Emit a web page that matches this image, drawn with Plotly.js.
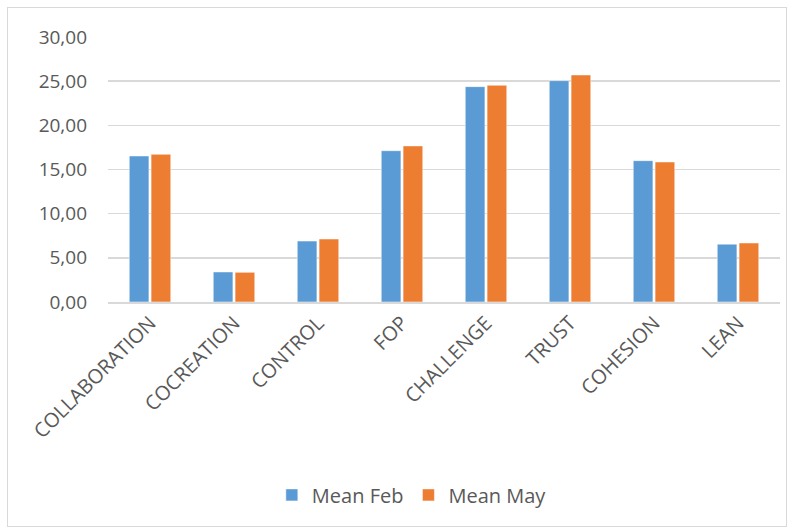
<!DOCTYPE html>
<html><head><meta charset="utf-8">
<script src="https://cdn.plot.ly/plotly-3.0.1.min.js"></script>
<style>
html,body{margin:0;padding:0;background:#fff;}
#wrap{position:relative;width:792px;height:531px;}
#chart{position:absolute;left:0;top:0;width:792px;height:531px;}
#frame{position:absolute;left:7px;top:7px;width:780px;height:520px;border:1px solid #d9d9d9;box-sizing:border-box;pointer-events:none;}
</style></head>
<body>
<div id="wrap"><div id="chart"></div><div id="frame"></div></div>
<script>
const categories = ["COLLABORATION","COCREATION","CONTROL","FOP","CHALLENGE","TRUST","COHESION","LEAN"];
const meanFeb = [16.53, 3.40, 6.90, 17.13, 24.38, 25.06, 16.00, 6.55];
const meanMay = [16.72, 3.36, 7.13, 17.67, 24.53, 25.70, 15.85, 6.68];
const yTicks = [0,5,10,15,20,25,30];

const font = {family: "Open Sans, Liberation Sans, sans-serif", color: "#595959", size: 15};
const traces = [
  {type:"bar", name:"Mean Feb", x:categories, y:meanFeb, marker:{color:"#5B9BD5", line:{color:"#ffffff", width:0.5}}},
  {type:"bar", name:"Mean May", x:categories, y:meanMay, marker:{color:"#ED7D31", line:{color:"#ffffff", width:0.5}}}
];
const layout = {
  width:792, height:531,
  margin:{l:108, r:12, t:37, b:229},
  paper_bgcolor:"rgba(0,0,0,0)", plot_bgcolor:"#fff",
  separators:", ",
  barmode:"group", bargap:0.48, bargroupgap:0.1,
  font:font,
  showlegend:true,
  legend:{orientation:"h", x:0.52, xanchor:"center", xref:"container", y:0.068, yref:"container", yanchor:"middle", font:{size:20, color:"#595959"}, itemwidth:30, traceorder:"normal"},
  xaxis:{tickangle:-45, tickfont:{size:20, color:"#595959"}, showline:true, linecolor:"#d9d9d9", linewidth:1.5, ticks:"", automargin:false},
  yaxis:{range:[0,30], tickvals:yTicks, tickformat:".2f", showgrid:true, gridcolor:"#d9d9d9", gridwidth:1.5, zeroline:false, showline:false, ticks:"", ticklabelstandoff:20, tickfont:{size:19, color:"#595959"}, automargin:false}
};
Plotly.newPlot("chart", traces, layout, {displayModeBar:false, staticPlot:true});
</script>
</body></html>
